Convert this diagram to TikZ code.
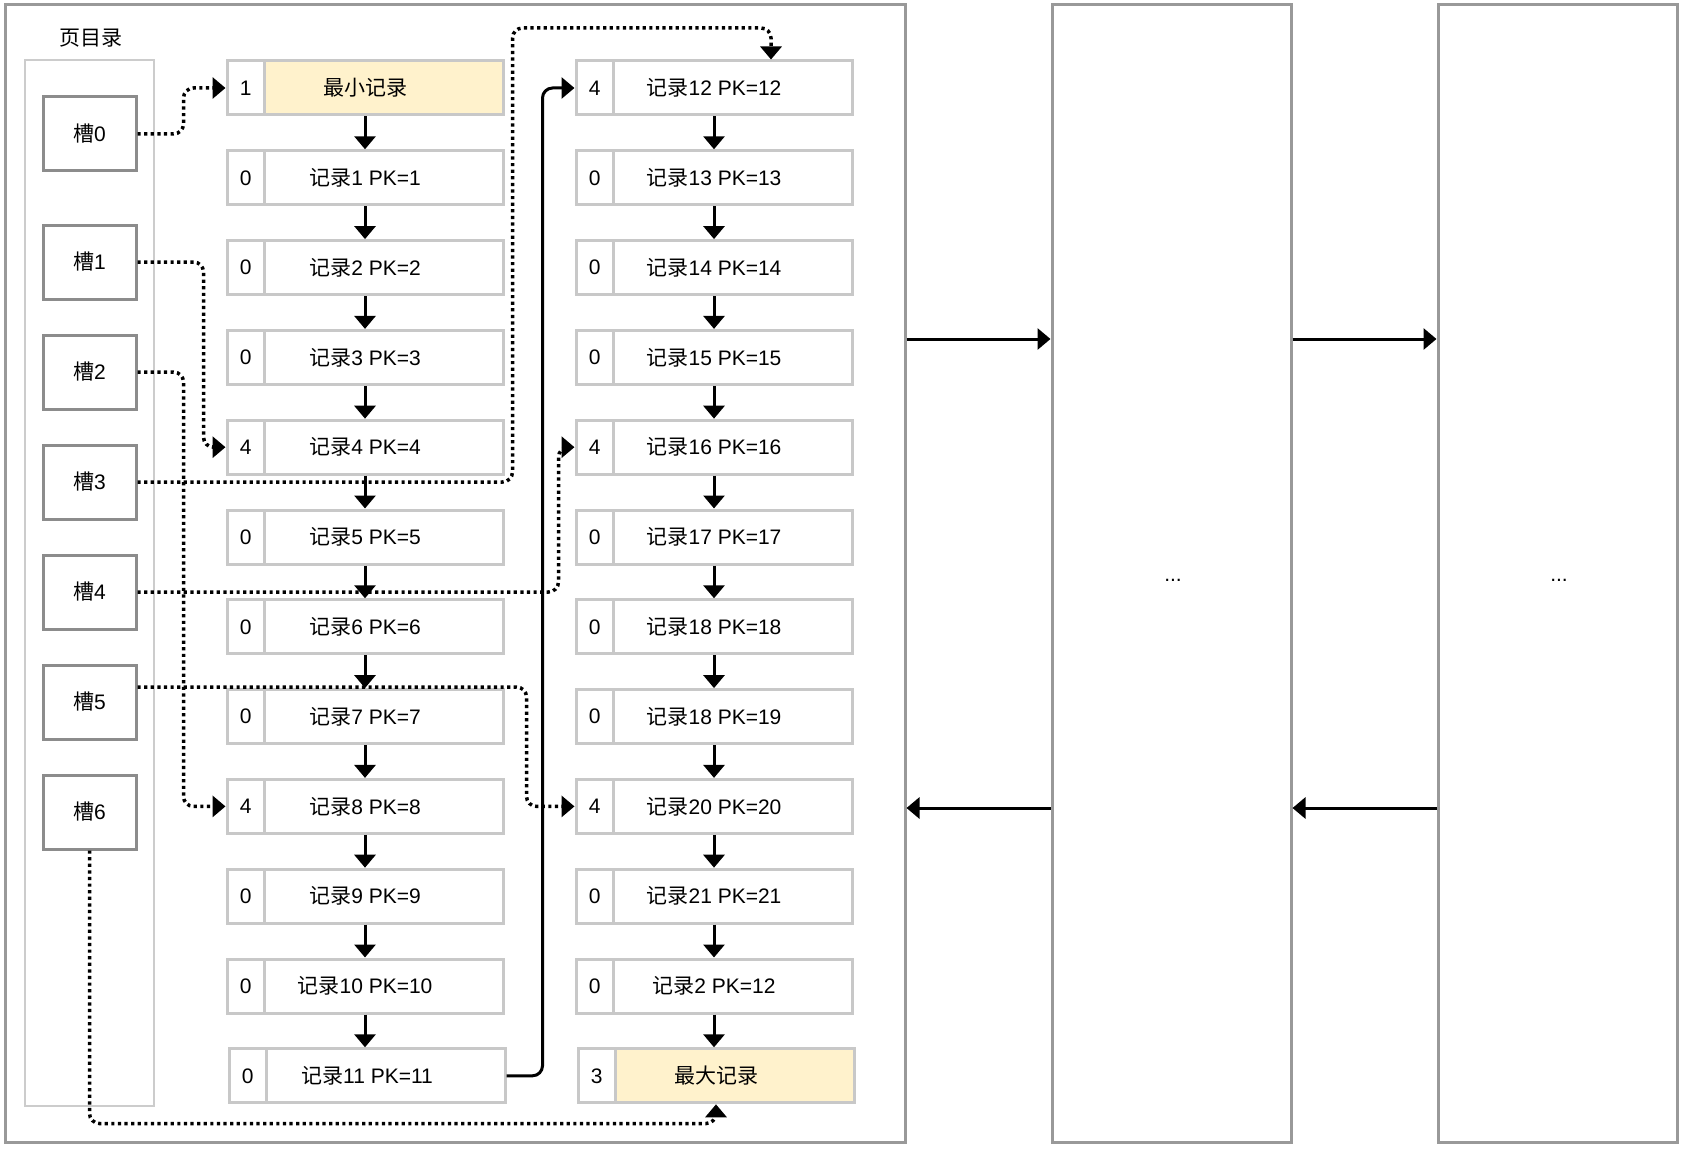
\documentclass[tikz,border=0pt]{standalone}
\usepackage{fontspec}
\setmainfont{Liberation Sans}
\newfontfamily\cjk{Noto Sans CJK SC}
\usetikzlibrary{arrows.meta,calc}
\definecolor{recgray}{HTML}{C8C8C8}
\definecolor{slotgray}{HTML}{8C8C8C}
\definecolor{pagegray}{HTML}{999999}
\definecolor{dirgray}{HTML}{CCCCCC}
\definecolor{minfill}{HTML}{FFF2CC}
\newcommand\zh[1]{{\cjk #1}}
\begin{document}
\begin{tikzpicture}[x=0.5pt,y=-0.5pt,
  every node/.style={font=\fontsize{10.5pt}{12pt}\selectfont, inner sep=0pt},
  rec/.style={draw=recgray, line width=1.5pt, minimum width=138pt, minimum height=27pt, fill=white},
  idx/.style={draw=recgray, line width=1.5pt, minimum width=18.75pt, minimum height=27pt, fill=white, anchor=west},
  slotbox/.style={draw=slotgray, line width=1.5pt, minimum width=46.5pt, minimum height=37pt},
  pagebox/.style={draw=pagegray, line width=1.5pt, minimum width=119.5pt, minimum height=568.5pt},
  arr/.style={line width=1.5pt, -{Triangle[length=6.5pt,width=10.5pt]}},
  dotarr/.style={line width=1.75pt, dash pattern=on 1.6pt off 1.7pt, rounded corners=5pt, -{Triangle[length=6.5pt,width=10.5pt]}},
  solarr/.style={line width=1.5pt, rounded corners=5pt, -{Triangle[length=6.5pt,width=10.5pt]}}
]
\fill[white] (0,0) rectangle (1684,1150);
\useasboundingbox (0,0) rectangle (1684,1150);

% pages
\node[pagebox, minimum width=450pt] (p1) at (455,573.5) {};
\node[pagebox] (p2) at (1171.5,573.5) {};
\node[pagebox] (p3) at (1557.5,573.5) {};
\node (e2) at (1173,580) {...};
\node (e3) at (1559,580) {...};

% directory
\node[draw=dirgray, line width=1.3pt, minimum width=64.5pt, minimum height=523pt] (dir) at (89.5,583) {};
\node (dirlab) at (91,38) {\zh{页目录}};

% slots
\node[slotbox] (s0) at (89.5,134) {\zh{槽}0};
\node[slotbox] (s1) at (89.5,262) {\zh{槽}1};
\node[slotbox] (s2) at (89.5,372) {\zh{槽}2};
\node[slotbox] (s3) at (89.5,482) {\zh{槽}3};
\node[slotbox] (s4) at (89.5,592) {\zh{槽}4};
\node[slotbox] (s5) at (89.5,702) {\zh{槽}5};
\node[slotbox] (s6) at (89.5,812) {\zh{槽}6};

% column 1
\node[rec, fill=minfill] (a0) at (365,88) {\zh{最小记录}};
\node[idx] (a0i) at (a0.west) {1};
\node[rec] (a1) at (365,177.8) {\zh{记录}1 PK=1};
\node[idx] (a1i) at (a1.west) {0};
\node[rec] (a2) at (365,267.6) {\zh{记录}2 PK=2};
\node[idx] (a2i) at (a2.west) {0};
\node[rec] (a3) at (365,357.4) {\zh{记录}3 PK=3};
\node[idx] (a3i) at (a3.west) {0};
\node[rec] (a4) at (365,447.2) {\zh{记录}4 PK=4};
\node[idx] (a4i) at (a4.west) {4};
\node[rec] (a5) at (365,537) {\zh{记录}5 PK=5};
\node[idx] (a5i) at (a5.west) {0};
\node[rec] (a6) at (365,626.8) {\zh{记录}6 PK=6};
\node[idx] (a6i) at (a6.west) {0};
\node[rec] (a7) at (365,716.6) {\zh{记录}7 PK=7};
\node[idx] (a7i) at (a7.west) {0};
\node[rec] (a8) at (365,806.4) {\zh{记录}8 PK=8};
\node[idx] (a8i) at (a8.west) {4};
\node[rec] (a9) at (365,896.2) {\zh{记录}9 PK=9};
\node[idx] (a9i) at (a9.west) {0};
\node[rec] (a10) at (365,986) {\zh{记录}10 PK=10};
\node[idx] (a10i) at (a10.west) {0};
\node[rec] (a11) at (367,1075.8) {\zh{记录}11 PK=11};
\node[idx] (a11i) at (a11.west) {0};

% column 2
\node[rec] (b0) at (714,88) {\zh{记录}12 PK=12};
\node[idx] (b0i) at (b0.west) {4};
\node[rec] (b1) at (714,177.8) {\zh{记录}13 PK=13};
\node[idx] (b1i) at (b1.west) {0};
\node[rec] (b2) at (714,267.6) {\zh{记录}14 PK=14};
\node[idx] (b2i) at (b2.west) {0};
\node[rec] (b3) at (714,357.4) {\zh{记录}15 PK=15};
\node[idx] (b3i) at (b3.west) {0};
\node[rec] (b4) at (714,447.2) {\zh{记录}16 PK=16};
\node[idx] (b4i) at (b4.west) {4};
\node[rec] (b5) at (714,537) {\zh{记录}17 PK=17};
\node[idx] (b5i) at (b5.west) {0};
\node[rec] (b6) at (714,626.8) {\zh{记录}18 PK=18};
\node[idx] (b6i) at (b6.west) {0};
\node[rec] (b7) at (714,716.6) {\zh{记录}18 PK=19};
\node[idx] (b7i) at (b7.west) {0};
\node[rec] (b8) at (714,806.4) {\zh{记录}20 PK=20};
\node[idx] (b8i) at (b8.west) {4};
\node[rec] (b9) at (714,896.2) {\zh{记录}21 PK=21};
\node[idx] (b9i) at (b9.west) {0};
\node[rec] (b10) at (714,986) {\zh{记录}2 PK=12};
\node[idx] (b10i) at (b10.west) {0};
\node[rec, fill=minfill] (b11) at (716,1075.8) {\zh{最大记录}};
\node[idx] (b11i) at (b11.west) {3};

% vertical chains
\foreach \i [evaluate=\i as \j using int(\i+1)] in {0,...,10} {
  \draw[arr] (a\i.south) -- (a\i.south |- a\j.north);
  \draw[arr] (b\i.south) -- (b\i.south |- b\j.north);
}

% 记录11 -> 记录12
\draw[solarr] (a11.east) -- ++(36,0) |- (b0i.west);

% page links
\draw[arr] ($(p1.east)+(0,-234.5)$) -- ($(p2.west)+(0,-234.5)$);
\draw[arr] ($(p2.east)+(0,-234.5)$) -- ($(p3.west)+(0,-234.5)$);
\draw[arr] ($(p2.west)+(0,234.5)$) -- ($(p1.east)+(0,234.5)$);
\draw[arr] ($(p3.west)+(0,234.5)$) -- ($(p2.east)+(0,234.5)$);

% slot pointers
\coordinate (t12) at ($(b0.north)+(57,0)$);
\draw[dotarr] (s0.east) -- ++(46,0) |- (a0i.west);
\draw[dotarr] (s1.east) -- ++(66,0) |- (a4i.west);
\draw[dotarr] (s2.east) -- ++(46,0) |- (a8i.west);
\draw[dotarr] (s3.east) -- ++(375,0) -- ++(0,-454) -| (t12);
\draw[dotarr] (s4.east) -- ++(421,0) |- (b4i.west);
\draw[dotarr] ($(s5.east)+(0,-15)$) -- ++(389,0) |- (b8i.west);
\draw[dotarr] (s6.south) -- ++(0,273) -| (b11.south);
\end{tikzpicture}
\end{document}
